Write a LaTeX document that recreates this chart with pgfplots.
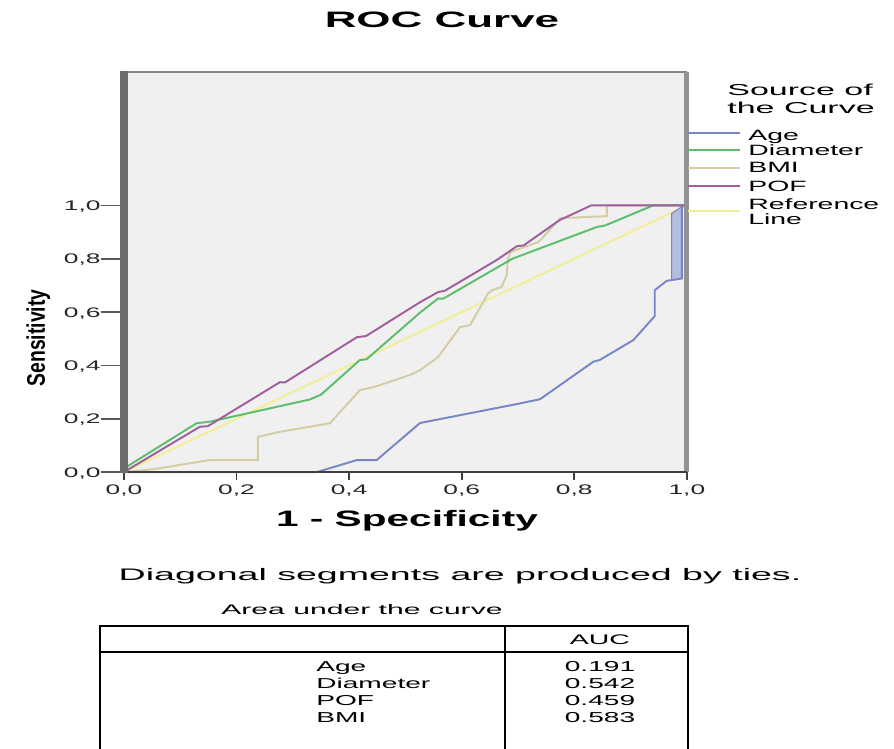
\documentclass[border=0pt]{standalone}
\usepackage{fontspec}
\setmainfont{Liberation Sans}
\usepackage{graphicx}
\usepackage{pgfplots}
\pgfplotsset{compat=1.18}

\definecolor{plotbg}{HTML}{F0F0F0}
\definecolor{leftc}{HTML}{6C6C6C}
\definecolor{topc}{HTML}{858585}
\definecolor{rightc}{HTML}{939393}
\definecolor{botc}{HTML}{404040}
\definecolor{agec}{HTML}{7886C4}
\definecolor{agefill}{HTML}{B4BCE0}
\definecolor{diac}{HTML}{5CBE6C}
\definecolor{bmic}{HTML}{D4CCA4}
\definecolor{pofc}{HTML}{A05E9C}
\definecolor{refc}{HTML}{F2EE96}

\newcommand\fs[1]{\fontsize{#1}{#1}\selectfont}
\newcommand\sx[2]{\scalebox{#1}[1]{#2}}

\begin{document}
\begin{tikzpicture}[x=0.02cm,y=0.02cm]
\path[use as bounding box] (0,0) rectangle (894,749);

\begin{axis}[
  at={(2.48cm,5.54cm)}, anchor=south west,
  scale only axis, width=11.26cm, height=8cm,
  xmin=0, xmax=1, ymin=0, ymax=1.5,
  clip=false,
  axis line style={draw=none},
  axis background/.style={fill=plotbg},
  xtick={0,0.2,0.4,0.6,0.8,1}, ytick={0,0.2,0.4,0.6,0.8,1},
  tick align=outside, tick pos=left,
  major tick length=0.16cm,
  xtick style={line width=1pt, color=botc},
  ytick style={line width=1pt, color=black!65},
  tick label style={font=\fs{7.9}, text=black!85},
  xticklabel style={inner sep=2.5pt},
  yticklabel style={inner sep=0pt, anchor=base east, yshift=-2.84pt},
  /pgf/number format/fixed,
  /pgf/number format/fixed zerofill,
  /pgf/number format/precision=1,
  /pgf/number format/use comma,
  /pgf/number format/assume math mode=true,
  xticklabel={\sx{1.9}{\pgfmathprintnumber{\tick}}},
  yticklabel={\sx{1.9}{\pgfmathprintnumber{\tick}}\textcolor{black!65}{\rule[2.34pt]{0.3cm}{1pt}}},
]
% Reference line
\addplot[refc, line width=1.1pt] coordinates {(0,0) (1,1)};
% BMI
\addplot[bmic, line width=1.1pt] coordinates {
(0,0) (0.05,0.01) (0.153,0.045) (0.238,0.045) (0.238,0.132) (0.277,0.151)
(0.366,0.183) (0.419,0.307) (0.449,0.322) (0.508,0.364) (0.526,0.382)
(0.558,0.431) (0.593,0.532) (0.597,0.544) (0.615,0.551) (0.647,0.671)
(0.654,0.682) (0.671,0.694) (0.680,0.739) (0.682,0.795) (0.686,0.825)
(0.735,0.862) (0.740,0.870) (0.775,0.952) (0.858,0.960) (0.858,1.0) (1,1)};
% Age
\addplot[fill=agefill, draw=agec, line width=0.6pt] coordinates {
(0.973,0.720) (0.991,0.726) (0.991,0.995) (0.973,0.970)} -- cycle;
\addplot[agec, line width=1.1pt] coordinates {
(0,0) (0.343,0) (0.414,0.045) (0.449,0.045) (0.526,0.184) (0.698,0.255)
(0.739,0.273) (0.834,0.414) (0.845,0.420) (0.905,0.495) (0.943,0.585)
(0.943,0.682) (0.964,0.717) (0.973,0.720) (0.991,0.726) (0.991,0.995) (1,1)};
% Diameter
\addplot[diac, line width=1.1pt] coordinates {
(0,0) (0.005,0.02) (0.129,0.183) (0.153,0.189) (0.330,0.272) (0.350,0.290)
(0.419,0.420) (0.431,0.423) (0.526,0.598) (0.558,0.651) (0.567,0.650)
(0.690,0.800) (0.840,0.919) (0.855,0.925) (0.940,1.0) (1,1)};
% POF
\addplot[pofc, line width=1.1pt] coordinates {
(0,0) (0.135,0.170) (0.149,0.172) (0.277,0.337) (0.286,0.336) (0.414,0.506)
(0.430,0.510) (0.526,0.637) (0.558,0.675) (0.570,0.680) (0.662,0.795)
(0.698,0.847) (0.710,0.850) (0.774,0.945) (0.830,1.0) (1,1)};

% frame
\draw[topc, line width=1.2pt] (rel axis cs:0,1) -- (rel axis cs:1,1);
\draw[rightc, line width=2.8pt] (rel axis cs:1,0) -- (rel axis cs:1,1);
\draw[botc, line width=1.1pt] (rel axis cs:0,0) -- (rel axis cs:1,0);
\draw[leftc, line width=5pt] (rel axis cs:0,-0.003) -- (rel axis cs:0,1.003);
\end{axis}

% titles and axis labels
\node[anchor=base, inner sep=0] at (442,721) {\fs{12.7}\bfseries\sx{1.97}{ROC Curve}};
\node[anchor=base, inner sep=0] at (407,222) {\fs{12.7}\bfseries\sx{1.82}{1 - Specificity}};
\node[anchor=base, inner sep=0, rotate=90] at (45,411) {\fs{14.5}\bfseries\sx{0.76}{Sensitivity}};

% legend
\node[anchor=base west, inner sep=0] at (727,653) {\fs{9}\sx{2.15}{Source of}};
\node[anchor=base west, inner sep=0] at (727,635) {\fs{9}\sx{2.15}{the Curve}};
\draw[agec, line width=1.1pt] (688,616) -- (740,616);
\draw[diac, line width=1.1pt] (688,599) -- (740,599);
\draw[bmic, line width=1.1pt] (688,581) -- (740,581);
\draw[pofc, line width=1.1pt] (688,563) -- (740,563);
\draw[refc, line width=1.1pt] (688,538) -- (740,538);
\node[anchor=base west, inner sep=0] at (748,608) {\fs{8.5}\sx{1.9}{Age}};
\node[anchor=base west, inner sep=0] at (748,593) {\fs{8.5}\sx{1.9}{Diameter}};
\node[anchor=base west, inner sep=0] at (748,576) {\fs{8.5}\sx{1.9}{BMI}};
\node[anchor=base west, inner sep=0] at (748,557) {\fs{8.5}\sx{1.9}{POF}};
\node[anchor=base west, inner sep=0] at (748,539) {\fs{8.5}\sx{1.9}{Reference}};
\node[anchor=base west, inner sep=0] at (748,524) {\fs{8.5}\sx{1.9}{Line}};

% footnote
\node[anchor=base, inner sep=0] at (460,168) {\fs{9.5}\sx{2.25}{Diagonal segments are produced by ties.}};
\node[anchor=base, inner sep=0] at (362,134) {\fs{7.9}\sx{2.17}{Area under the curve}};

% AUC table
\draw[black, line width=1.1pt] (100,-5) -- (100,123) -- (688,123) -- (688,-5);
\draw[black, line width=1.1pt] (505,-5) -- (505,123);
\draw[black, line width=1.1pt] (100,97) -- (688,97);
\node[anchor=base, inner sep=0] at (600,104) {\fs{7.9}\sx{2.05}{AUC}};
\node[anchor=base west, inner sep=0] at (316,77) {\fs{8.2}\sx{1.95}{Age}};
\node[anchor=base west, inner sep=0] at (316,60) {\fs{8.2}\sx{1.95}{Diameter}};
\node[anchor=base west, inner sep=0] at (316,43) {\fs{8.2}\sx{1.95}{POF}};
\node[anchor=base west, inner sep=0] at (316,26) {\fs{8.2}\sx{1.95}{BMI}};
\node[anchor=base, inner sep=0] at (600,77) {\fs{8.2}\sx{1.95}{0.191}};
\node[anchor=base, inner sep=0] at (600,60) {\fs{8.2}\sx{1.95}{0.542}};
\node[anchor=base, inner sep=0] at (600,43) {\fs{8.2}\sx{1.95}{0.459}};
\node[anchor=base, inner sep=0] at (600,26) {\fs{8.2}\sx{1.95}{0.583}};
\end{tikzpicture}
\end{document}
